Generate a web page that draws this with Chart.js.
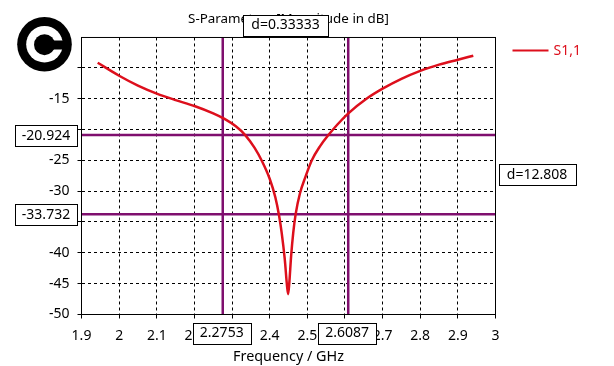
<!DOCTYPE html>
<html>
<head>
<meta charset="utf-8">
<title>S-Parameters</title>
<script src="https://cdn.jsdelivr.net/npm/chart.js@4/dist/chart.umd.min.js"></script>
<style>
    html, body { margin: 0; padding: 0; background: #fff; }
    #wrap { width: 614px; height: 366px; }
</style>
</head>
<body>
<div id="wrap"><canvas id="myChart" width="614" height="366"></canvas></div>
<script>
const frequency = [1.943, 2.0, 2.05, 2.1, 2.15, 2.2, 2.25, 2.28, 2.31, 2.335, 2.36, 2.38, 2.40, 2.415, 2.425, 2.432,
    2.44, 2.446, 2.449, 2.452, 2.457, 2.4625, 2.469, 2.4805, 2.495, 2.512, 2.534, 2.556, 2.58, 2.609, 2.658, 2.70, 2.75, 2.80,
    2.85, 2.90, 2.941];
const s11 = [-9.2, -11.3, -12.9, -14.2, -15.25, -16.2, -17.4, -18.3, -19.5, -20.92, -23.0, -25.2, -28.0, -31.0, -34.0, -36.8,
    -41.0, -45.3, -46.7, -45.0, -40.5, -36.8, -33.73, -30.35, -27.7, -25.0, -22.7, -20.92, -19.2, -17.4, -15.0, -13.4, -11.8, -10.5,
    -9.5, -8.7, -8.05];
const xTicks = [1.9, 2, 2.1, 2.2, 2.3, 2.4, 2.5, 2.6, 2.7, 2.8, 2.9, 3];
const yTicks = [-50, -45, -40, -35, -30, -25, -20, -15, -10];
const yHiddenLabels = [-20, -10];
const markerFreq = [2.2753, 2.6087];
const markerDb = [-20.924, -33.732];
const deltaFreq = 'd=0.33333';
const deltaDb = 'd=12.808';
const seriesName = 'S1,1';

const curveColor = '#dd0f1c';
const markerColor = '#7f0f6e';
const fontName = '"Noto Sans", sans-serif';

function markerLine(points) {
    return { data: points, borderColor: markerColor, borderWidth: 2.5, pointRadius: 0, showLine: true };
}

function drawBox(ctx, text, cx, cy, w, h) {
    ctx.fillStyle = '#fff';
    ctx.strokeStyle = '#000';
    ctx.lineWidth = 1;
    const x = Math.round(cx - w / 2) + 0.5;
    const y = Math.round(cy - h / 2) + 0.5;
    ctx.fillRect(x, y, w, h);
    ctx.strokeRect(x, y, w, h);
    ctx.fillStyle = '#000';
    ctx.font = '14px ' + fontName;
    ctx.textAlign = 'center';
    ctx.textBaseline = 'middle';
    ctx.fillText(text, cx, cy + 0.5);
}

// frame, legend, marker labels and logo go on top of everything
const overlay = {
    id: 'overlay',
    afterDraw(chart) {
        const { ctx, chartArea: a, scales: { x, y } } = chart;
        ctx.save();
        ctx.strokeStyle = '#000';
        ctx.lineWidth = 1;
        ctx.strokeRect(a.left, a.top, a.right - a.left, a.bottom - a.top);

        // legend
        ctx.strokeStyle = curveColor;
        ctx.lineWidth = 2;
        ctx.beginPath();
        ctx.moveTo(a.right + 17, 50.5);
        ctx.lineTo(a.right + 53, 50.5);
        ctx.stroke();
        ctx.fillStyle = curveColor;
        ctx.font = '14px ' + fontName;
        ctx.textAlign = 'left';
        ctx.textBaseline = 'middle';
        ctx.fillText(seriesName, a.right + 58, 51);

        // marker labels
        markerDb.forEach(v => drawBox(ctx, v.toFixed(3), 46, y.getPixelForValue(v), 62, 21));
        markerFreq.forEach(v => drawBox(ctx, v.toFixed(4), x.getPixelForValue(v) - 1, 333, 58, 21));
        drawBox(ctx, deltaFreq, (x.getPixelForValue(markerFreq[0]) + x.getPixelForValue(markerFreq[1])) / 2, 25, 85, 21);
        drawBox(ctx, deltaDb, 537, (y.getPixelForValue(markerDb[0]) + y.getPixelForValue(markerDb[1])) / 2, 77, 21);

        // logo
        ctx.fillStyle = '#000';
        ctx.beginPath();
        ctx.arc(44.5, 44.2, 27.3, 0, Math.PI * 2);
        ctx.fill();
        ctx.fillStyle = '#fff';
        ctx.beginPath();
        ctx.arc(44.5, 44.2, 18.3, 0, Math.PI * 2);
        ctx.fill();
        ctx.fillStyle = '#000';
        ctx.beginPath();
        ctx.arc(44.5, 44.7, 10.5, 0, Math.PI * 2);
        ctx.fill();
        ctx.fillRect(44, 40.5, 20, 9);
        ctx.restore();
    }
};

new Chart(document.getElementById('myChart'), {
    type: 'scatter',
    data: {
        datasets: [
            {
                data: frequency.map((f, i) => ({ x: f, y: s11[i] })),
                borderColor: curveColor,
                borderWidth: 2.5,
                pointRadius: 0,
                showLine: true,
                cubicInterpolationMode: 'monotone'
            },
            markerLine([{ x: markerFreq[0], y: -50 }, { x: markerFreq[0], y: -5.1 }]),
            markerLine([{ x: markerFreq[1], y: -50 }, { x: markerFreq[1], y: -5.1 }]),
            markerLine([{ x: 1.9, y: markerDb[0] }, { x: 3, y: markerDb[0] }]),
            markerLine([{ x: 1.9, y: markerDb[1] }, { x: 3, y: markerDb[1] }])
        ]
    },
    options: {
        responsive: false,
        animation: false,
        layout: { padding: { right: 118.5 } },
        plugins: {
            legend: { display: false },
            tooltip: { enabled: false },
            title: {
                display: true,
                fullSize: false,
                text: 'S-Parameters [Magnitude in dB]',
                color: '#000',
                font: { family: fontName, size: 13.4, weight: 'normal' },
                padding: { top: 11, bottom: 10.4 }
            }
        },
        scales: {
            x: {
                type: 'linear',
                min: 1.9,
                max: 3,
                afterBuildTicks: s => { s.ticks = xTicks.map(v => ({ value: v })); },
                afterFit: s => { s.height = 51.5; },
                grid: { color: '#000', lineWidth: 1, tickBorderDash: [], tickLength: 4, tickColor: '#000' },
                border: { display: false, dash: [3, 3] },
                ticks: {
                    color: '#000', padding: 9, maxRotation: 0, autoSkip: false,
                    font: { family: fontName, size: 14 },
                    callback: v => String(v)
                },
                title: {
                    display: true,
                    text: 'Frequency / GHz',
                    color: '#000',
                    font: { family: fontName, size: 14.4 },
                    padding: { top: 0, bottom: 0 }
                }
            },
            y: {
                type: 'linear',
                min: -50,
                max: -5.1,
                afterBuildTicks: s => { s.ticks = yTicks.map(v => ({ value: v })); },
                afterFit: s => { s.width = 81.5; },
                grid: { color: '#000', lineWidth: 1, tickBorderDash: [], tickLength: 4, tickColor: '#000' },
                border: { display: false, dash: [3, 3] },
                ticks: {
                    color: '#000', padding: 8, autoSkip: false,
                    font: { family: fontName, size: 14 },
                    callback: v => yHiddenLabels.includes(v) ? '' : String(v)
                }
            }
        }
    },
    plugins: [overlay]
});
</script>
</body>
</html>
